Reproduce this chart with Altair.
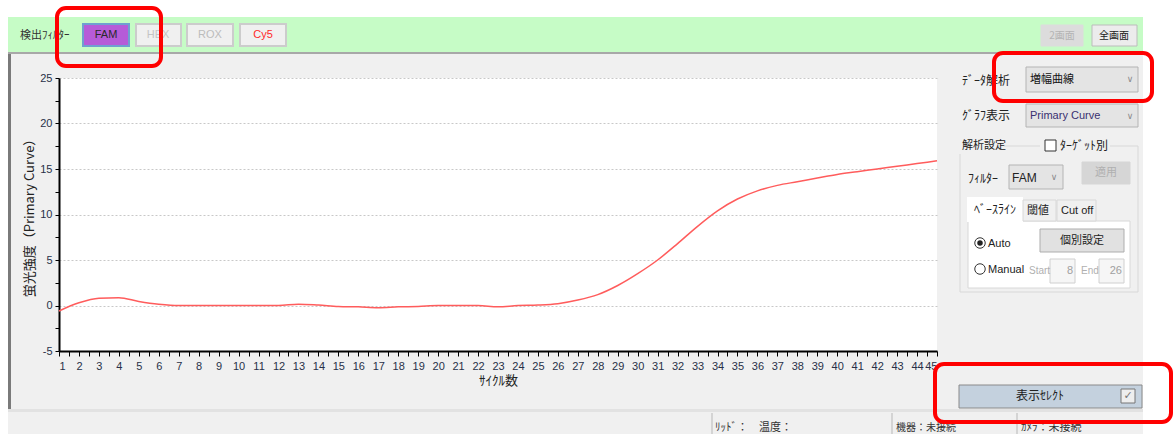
import altair as alt
import pandas as pd

# ---------------- data ----------------
cycles = list(range(1, 46))
fam_values = [-0.6, 0.3, 0.8, 0.85, 0.45, 0.15, 0.0, 0.0, 0.0, 0.0,
              0.0, 0.0, 0.15, 0.05, -0.1, -0.15, -0.25, -0.15, -0.1, 0.0,
              0.0, 0.0, -0.15, 0.0, 0.05, 0.2, 0.6, 1.2, 2.2, 3.5,
              5.0, 6.8, 8.7, 10.4, 11.7, 12.6, 13.2, 13.6, 14.0, 14.4,
              14.7, 15.0, 15.3, 15.6, 15.9]
x_title = "ｻｲｸﾙ数"
y_title = "蛍光強度（Primary Curve）"

JP = "Noto Sans CJK JP"
LAT = "Liberation Sans"
BG = "#f0f0f0"

OX, OY = 59, 78          # plot-area origin in the window
PW, PH = 878, 273        # plot-area size

# ---------------- UI chrome (window pixel coordinates) ----------------
base_rects = [
    (0, 0, 1175, 17, "#ffffff", "#ffffff", 0),
    (0, 0, 8, 434, "#ffffff", "#ffffff", 0),
    (1143, 0, 1175, 434, "#ffffff", "#ffffff", 0),
    (8, 17, 1143, 52, "#c6fcc6", "#c6fcc6", 0),
    (8, 52, 1143, 54, "#a8a8a8", "#a8a8a8", 0),
    (8, 54, 11, 410, "#7a7a7a", "#7a7a7a", 0),
    (8, 409, 1143, 412, "#e2e2e2", "#e2e2e2", 0),
    (711, 413, 713, 434, "#d4d4d4", "#d4d4d4", 0),
    (891, 413, 893, 434, "#d4d4d4", "#d4d4d4", 0),
    (1016, 413, 1018, 434, "#d4d4d4", "#d4d4d4", 0),
    # header buttons
    (83, 24, 129, 46, "#b65bd8", "#6f9fd0", 2),
    (136, 24, 181, 46, "#f0f0f0", "#cccccc", 2),
    (187, 24, 233, 46, "#f0f0f0", "#cccccc", 2),
    (240, 24, 286, 46, "#f0f0f0", "#cccccc", 2),
    (1041, 25, 1083, 46, "#dcdcdc", "#dcdcdc", 1),
    (1092, 25, 1137, 46, "#ececec", "#bcbcbc", 1),
    # right panel controls
    (1026, 67, 1138, 92, "#e4e4e4", "#b4b4b4", 1),
    (1026, 104, 1138, 127, "#e4e4e4", "#b4b4b4", 1),
    (960, 146, 1138, 292, "transparent", "#d8d8d8", 1),
    (958, 138, 1004, 154, BG, BG, 0),
    (1040, 138, 1110, 154, BG, BG, 0),
    (1045, 140, 1056, 151, "#ffffff", "#333333", 1),
    (1009, 165, 1063, 189, "#e4e4e4", "#b4b4b4", 1),
    (1082, 162, 1130, 184, "#d6d6d6", "#d6d6d6", 1),
    (968, 221, 1130, 288, "#ffffff", "#d8d8d8", 1),
    (967, 197, 1023, 222, "#ffffff", "#ffffff", 0),
    (1023, 200, 1056, 221, BG, "#d8d8d8", 1),
    (1057, 200, 1096, 221, BG, "#d8d8d8", 1),
    (1040, 229, 1124, 252, "#e1e1e1", "#adadad", 1),
    (1050, 259, 1075, 283, "#f6f6f6", "#d0d0d0", 1),
    (1099, 259, 1124, 283, "#f6f6f6", "#d0d0d0", 1),
    (959, 385, 1142, 408, "#c4d1de", "#8a8a8a", 1),
    (1121, 389, 1135, 403, "#eeeeee", "#777777", 1),
]

red_rects = [
    (57, 8, 161, 66, "transparent", "#ff0000", 4),
    (994, 53, 1152, 101, "transparent", "#ff0000", 4),
    (935, 364, 1171, 422, "transparent", "#ff0000", 4),
]

texts_left_jp = [
    (20, 36, "検出ﾌｨﾙﾀｰ", "#333333", 11),
    (962, 81, "ﾃﾞｰﾀ解析", "#222222", 12),
    (1030, 80, "増幅曲線", "#111111", 11),
    (962, 116, "ｸﾞﾗﾌ表示", "#222222", 12),
    (962, 146, "解析設定", "#222222", 11),
    (1060, 146, "ﾀｰｹﾞｯﾄ別", "#222222", 12),
    (968, 179, "ﾌｨﾙﾀｰ", "#222222", 12),
    (1027, 211, "閾値", "#222222", 11),
    (715, 428, "ﾘｯﾄﾞ：　温度：", "#333333", 11),
    (896, 428, "機器：未接続", "#333333", 10),
    (1021, 428, "ｶﾒﾗ：未接続", "#333333", 11),
]
texts_left_lat = [
    (1030, 116, "Primary Curve", "#3a3070", 11),
    (1012, 178, "FAM", "#222222", 12),
    (1061, 211, "Cut off", "#222222", 11),
    (988, 244, "Auto", "#222222", 11),
    (988, 270, "Manual", "#222222", 11),
    (1029, 271, "Start", "#b0b0b0", 10),
    (1081, 271, "End", "#b0b0b0", 10),
]
texts_center_lat = [
    (106, 35, "FAM", "#2a2a2a", 11),
    (158, 35, "HEX", "#c4c4c4", 11),
    (210, 35, "ROX", "#bcbcbc", 11),
    (263, 35, "Cy5", "#ff2a2a", 11),
]
texts_center_jp = [
    (1062, 36, "2画面", "#b4b4b4", 10),
    (1114, 36, "全画面", "#222222", 10),
    (1106, 173, "適用", "#b0b0b0", 11),
    (995, 210, "ﾍﾞｰｽﾗｲﾝ", "#222222", 12),
    (1082, 241, "個別設定", "#222222", 11),
    (1040, 396, "表示ｾﾚｸﾄ", "#222222", 12),
]
texts_center_sym = [
    (1130, 79, "∨", "#8a8a8a", 9),
    (1130, 116, "∨", "#8a8a8a", 9),
    (1054, 177, "∨", "#8a8a8a", 9),
    (1128, 396, "✓", "#777777", 11),
]
texts_right_lat = [
    (1073, 271, "8", "#a0a0a0", 11),
    (1122, 271, "26", "#a0a0a0", 11),
]
radio_rings = [(980, 243), (980, 269)]
radio_dots = [(980, 243)]


def rect_layer(rows, radius=0):
    df = pd.DataFrame([{"x": r[0] - OX, "x2": r[2] - OX, "y": r[1] - OY, "y2": r[3] - OY,
                        "fill": r[4], "stroke": r[5], "sw": r[6]} for r in rows])
    return alt.Chart(df).mark_rect(cornerRadius=radius).encode(
        x=alt.X("x:Q", scale=None, axis=None), x2="x2:Q",
        y=alt.Y("y:Q", scale=None, axis=None), y2="y2:Q",
        fill=alt.Fill("fill:N", scale=None),
        stroke=alt.Stroke("stroke:N", scale=None),
        strokeWidth=alt.StrokeWidth("sw:Q", scale=None),
    )


def text_layer(rows, align, font):
    df = pd.DataFrame([{"x": r[0] - OX, "y": r[1] - OY, "t": r[2], "c": r[3], "s": r[4]} for r in rows])
    return alt.Chart(df).mark_text(align=align, baseline="middle", font=font).encode(
        x=alt.X("x:Q", scale=None, axis=None),
        y=alt.Y("y:Q", scale=None, axis=None),
        text="t:N",
        color=alt.Color("c:N", scale=None),
        size=alt.Size("s:Q", scale=None),
    )


def point_layer(rows, **kw):
    df = pd.DataFrame([{"x": r[0] - OX, "y": r[1] - OY} for r in rows])
    return alt.Chart(df).mark_point(**kw).encode(
        x=alt.X("x:Q", scale=None, axis=None),
        y=alt.Y("y:Q", scale=None, axis=None),
    )


data = pd.DataFrame({"cycle": cycles, "value": fam_values})

x_ticks = [1 + 0.5 * i for i in range(89)]
y_ticks = [-5 + 2.5 * i for i in range(13)]

line = alt.Chart(data).mark_line(color="#ff5c5c", strokeWidth=1.5, interpolate="monotone").encode(
    x=alt.X("cycle:Q",
            scale=alt.Scale(domain=[1, 45], nice=False, zero=False),
            axis=alt.Axis(values=x_ticks,
                          labelExpr="datum.value % 1 === 0 ? '' + datum.value : ''",
                          labelOverlap=False, grid=False,
                          tickSize=5, tickColor="#000000", tickWidth=1,
                          domainColor="#000000", domainWidth=2,
                          labelFont=LAT, labelFontSize=11, labelColor="#283048",
                          labelPadding=4,
                          title=x_title, titleFont=JP, titleFontSize=13,
                          titleFontWeight="normal", titleColor="#222222",
                          titlePadding=3)),
    y=alt.Y("value:Q",
            scale=alt.Scale(domain=[-5, 25], nice=False, zero=False),
            axis=alt.Axis(values=y_ticks,
                          labelExpr="datum.value % 5 === 0 ? '' + datum.value : ''",
                          labelOverlap=False,
                          grid=True, gridDash=[2, 2], gridColor="#c8c8c8",
                          gridOpacity={"condition": {"test": "datum.value % 5 === 0 && datum.value > -5",
                                                     "value": 1}, "value": 0},
                          tickSize=4, tickColor="#000000", tickWidth=1,
                          domainColor="#000000", domainWidth=2,
                          labelFont=LAT, labelFontSize=11, labelColor="#283048",
                          labelPadding=3,
                          title=y_title, titleFont=JP, titleFontSize=13,
                          titleFontWeight="normal", titleColor="#222222",
                          titleX=-23, titleY=PH / 2)),
)

chart = alt.layer(
    rect_layer(base_rects),
    text_layer(texts_left_jp, "left", JP),
    text_layer(texts_left_lat, "left", LAT),
    text_layer(texts_center_lat, "center", LAT),
    text_layer(texts_center_jp, "center", JP),
    text_layer(texts_center_sym, "center", "DejaVu Sans"),
    text_layer(texts_right_lat, "right", LAT),
    point_layer(radio_rings, shape="circle", filled=True, fill="#ffffff",
                stroke="#333333", strokeWidth=1, size=110, opacity=1),
    point_layer(radio_dots, shape="circle", filled=True, fill="#222222",
                size=30, opacity=1),
    line,
    rect_layer(red_rects, radius=9),
).resolve_scale(
    x="independent", y="independent", color="independent", fill="independent",
    stroke="independent", size="independent", strokeWidth="independent",
).properties(
    width=PW, height=PH,
    autosize=alt.AutoSizeParams(type="none"),
    padding={"left": OX, "top": OY, "right": 1175 - OX - PW, "bottom": 434 - OY - PH},
    background=BG,
).configure_view(fill="#ffffff", strokeWidth=0)

chart.save("out.html", embed_options={"renderer": "svg", "actions": False})
